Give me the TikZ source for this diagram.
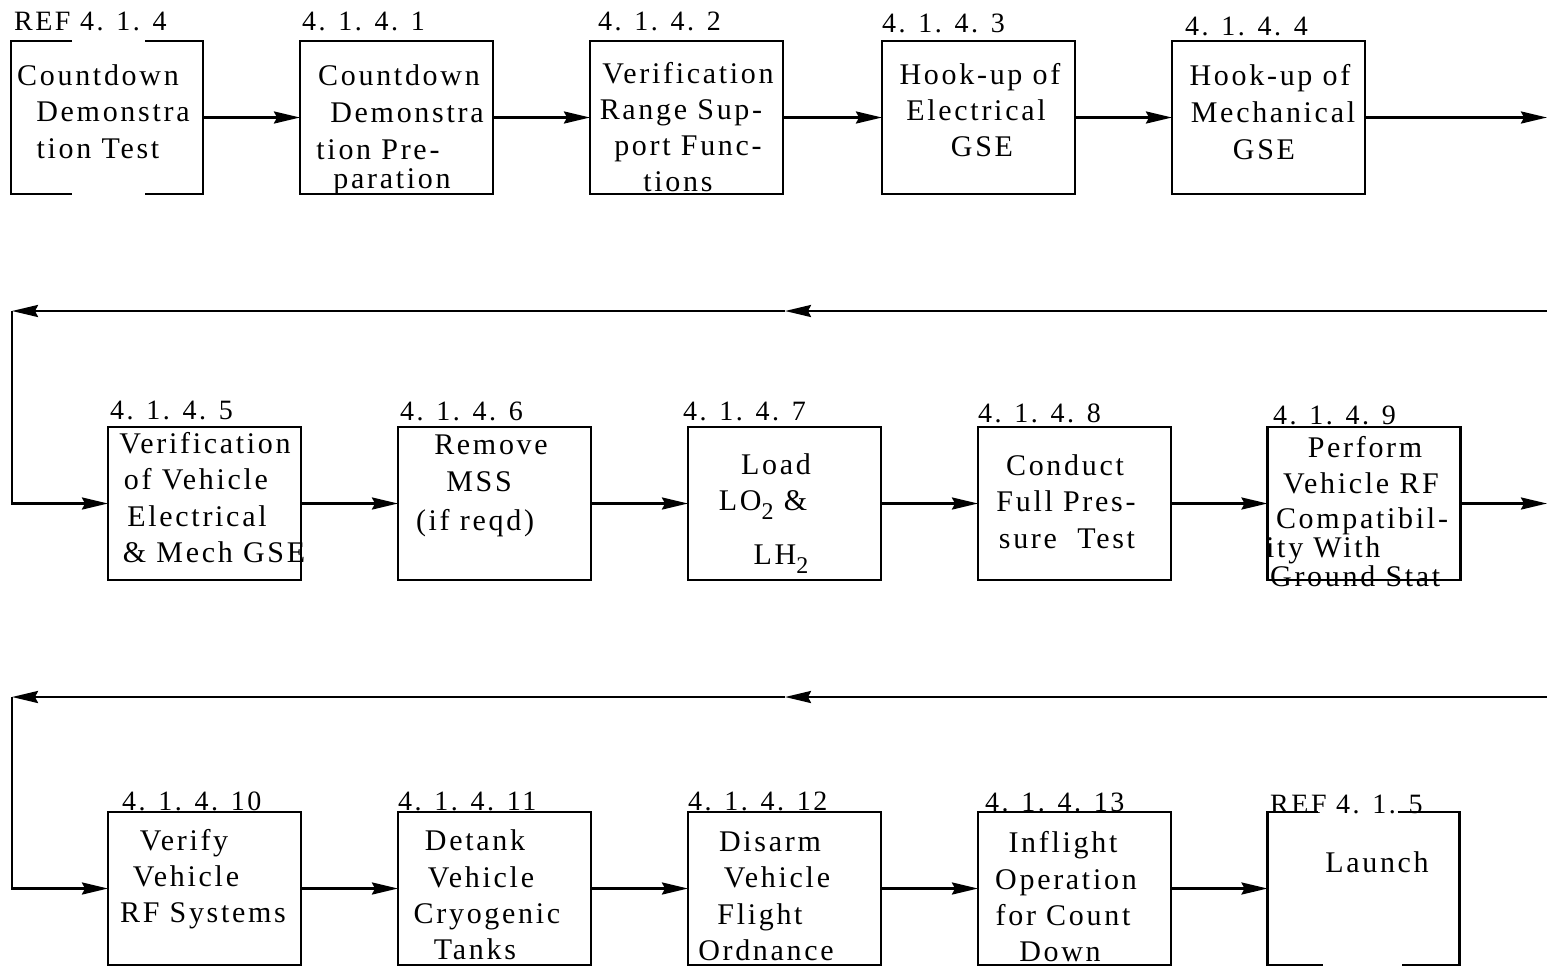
\documentclass[tikz,border=0pt]{standalone}
\usepackage{fontspec}
\setmainfont{Liberation Serif}[LetterSpace=9]
\usetikzlibrary{arrows.meta}
\tikzset{
  box/.style={draw, line width=2.8pt, minimum width=193pt, minimum height=153pt, inner sep=0pt, outer sep=0pt},
  refbox/.style={minimum width=192pt, minimum height=153pt, inner sep=0pt, outer sep=0pt},
  bracketline/.style={line width=2.8pt},
  conn/.style={line width=2.6pt},
  arr/.style={conn, -{Stealth[length=26pt,width=12pt,inset=3pt]}},
  txt/.style={anchor=base, inner sep=0pt, font=\fontsize{30}{36}\selectfont},
  txtl/.style={anchor=base west, inner sep=0pt, font=\fontsize{30}{36}\selectfont},
  num/.style={anchor=base west, inner sep=0pt, font=\fontsize{28}{32}\selectfont},
}
\begin{document}
\begin{tikzpicture}[x=1pt,y=-1pt]
\useasboundingbox (0,0) rectangle (1547,967);
% ---------- row 1 ----------
\node[refbox] (r0) at (107,117.5) {};
\node[box] (b1) at (396.5,117.5) {};
\node[box] (b2) at (686.5,117.5) {};
\node[box] (b3) at (978.5,117.5) {};
\node[box] (b4) at (1268.5,117.5) {};
\draw[bracketline] ([xshift=61pt]r0.north west) -- (r0.north west) -- (r0.south west) -- ([xshift=61pt]r0.south west);
\draw[bracketline] ([xshift=-58pt]r0.north east) -- (r0.north east) -- (r0.south east) -- ([xshift=-58pt]r0.south east);
% ---------- row 2 ----------
\node[box] (b5) at (204.5,503.5) {};
\node[box] (b6) at (494.5,503.5) {};
\node[box] (b7) at (784.5,503.5) {};
\node[box] (b8) at (1074.5,503.5) {};
\node[box] (b9) at (1364,503.5) {};
% ---------- row 3 ----------
\node[box] (b10) at (204.5,888.5) {};
\node[box] (b11) at (494.5,888.5) {};
\node[box] (b12) at (784.5,888.5) {};
\node[box] (b13) at (1074.5,888.5) {};
\node[refbox] (r14) at (1363.5,888.5) {};
\draw[bracketline] ([xshift=50pt]r14.north west) -- (r14.north west) -- (r14.south west) -- ([xshift=55pt]r14.south west);
\draw[bracketline] ([xshift=-62pt]r14.north east) -- (r14.north east) -- (r14.south east) -- ([xshift=-58pt]r14.south east);
% ---------- numbers ----------
\node[num] (n0) at (14,30) {REF 4. 1. 4};
\node[num] (n1) at (302,30) {4. 1. 4. 1};
\node[num] (n2) at (598,30) {4. 1. 4. 2};
\node[num] (n3) at (882,32) {4. 1. 4. 3};
\node[num] (n4) at (1185,35) {4. 1. 4. 4};
\node[num] (n5) at (110,419) {4. 1. 4. 5};
\node[num] (n6) at (400,420) {4. 1. 4. 6};
\node[num] (n7) at (683,420) {4. 1. 4. 7};
\node[num] (n8) at (978,422) {4. 1. 4. 8};
\node[num] (n9) at (1273,424) {4. 1. 4. 9};
\node[num] (n10) at (122,810) {4. 1. 4. 10};
\node[num] (n11) at (398,810) {4. 1. 4. 11};
\node[num] (n12) at (688,810) {4. 1. 4. 12};
\node[num] (n13) at (985,811) {4. 1. 4. 13};
\node[num] (n14) at (1270,813) {REF 4. 1. 5};
% ---------- box texts ----------
\node[txt] (t0a) at (98,85) {Countdown};
\node[txt] (t0b) at (113,121) {Demonstra};
\node[txt] (t0c) at (98,158) {tion Test};
\node[txt] (t1a) at (399,85) {Countdown};
\node[txt] (t1b) at (407,122) {Demonstra};
\node[txt] (t1c) at (378,159) {tion Pre-};
\node[txt] (t1d) at (392,188) {paration};
\node[txt] (t2a) at (688,83) {Verification};
\node[txt] (t2b) at (681,119) {Range Sup-};
\node[txt] (t2c) at (688,155) {port Func-};
\node[txt] (t2d) at (678,191) {tions};
\node[txt] (t3a) at (980,84) {Hook-up of};
\node[txt] (t3b) at (976,120) {Electrical};
\node[txt] (t3c) at (982,156) {GSE};
\node[txt] (t4a) at (1270,85) {Hook-up of};
\node[txt] (t4b) at (1273,122) {Mechanical};
\node[txt] (t4c) at (1264,159) {GSE};
\node[txt] (t5a) at (205,453) {Verification};
\node[txt] (t5b) at (196,489) {of Vehicle};
\node[txt] (t5c) at (197,526) {Electrical};
\node[txt] (t5d) at (214,562) {\& Mech GSE};
\node[txt] (t6a) at (491,454) {Remove};
\node[txt] (t6b) at (479,491) {MSS};
\node[txt] (t6c) at (475,530) {(if reqd)};
\node[txt] (t7a) at (776,474) {Load};
\node[txt] (t7b) at (763,510) {LO\raisebox{-9pt}{\fontsize{24}{24}\selectfont 2}\ \&};
\node[txt] (t7c) at (781,564) {LH\raisebox{-9pt}{\fontsize{24}{24}\selectfont 2}};
\node[txt] (t8a) at (1065,475) {Conduct};
\node[txt] (t8b) at (1066,511) {Full Pres-};
\node[txt] (t8c) at (1067,548) {sure\ \ Test};
\node[txt] (t9a) at (1365,457) {Perform};
\node[txt] (t9b) at (1361,493) {Vehicle RF};
\node[txt] (t9c) at (1362,528) {Compatibil-};
\node[txtl] (t9d) at (1266,557) {ity With};
\node[txtl] (t9e) at (1270,586) {Ground Stat};
\node[txt] (t10a) at (184,850) {Verify};
\node[txt] (t10b) at (186,886) {Vehicle};
\node[txt] (t10c) at (203,922) {RF Systems};
\node[txt] (t11a) at (475,850) {Detank};
\node[txt] (t11b) at (481,887) {Vehicle};
\node[txt] (t11c) at (487,923) {Cryogenic};
\node[txt] (t11d) at (475,959) {Tanks};
\node[txt] (t12a) at (770,851) {Disarm};
\node[txt] (t12b) at (777,887) {Vehicle};
\node[txt] (t12c) at (760,924) {Flight};
\node[txt] (t12d) at (766,960) {Ordnance};
\node[txt] (t13a) at (1063,852) {Inflight};
\node[txt] (t13b) at (1066,889) {Operation};
\node[txt] (t13c) at (1063,925) {for Count};
\node[txt] (t13d) at (1060,961) {Down};
\node[txt] (t14a) at (1377,872) {Launch};
% ---------- connectors ----------
\coordinate (o1) at (1547,117.5);
\coordinate (i2) at (1547,311);
\coordinate (m2) at (785,311);
\coordinate (c2) at (12,311);
\coordinate (o2) at (1547,503.5);
\coordinate (i3) at (1547,697);
\coordinate (m3) at (785,697);
\coordinate (c3) at (12,697);
\draw[arr] (r0.east) -- (b1.west);
\draw[arr] (b1.east) -- (b2.west);
\draw[arr] (b2.east) -- (b3.west);
\draw[arr] (b3.east) -- (b4.west);
\draw[arr] (b4.east) -- (o1);
\draw[arr] (i2) -- (m2);
\draw[arr] (m2) -- (c2);
\draw[arr] (c2) |- (b5.west);
\draw[arr] (b5.east) -- (b6.west);
\draw[arr] (b6.east) -- (b7.west);
\draw[arr] (b7.east) -- (b8.west);
\draw[arr] (b8.east) -- (b9.west);
\draw[arr] (b9.east) -- (o2);
\draw[arr] (i3) -- (m3);
\draw[arr] (m3) -- (c3);
\draw[arr] (c3) |- (b10.west);
\draw[arr] (b10.east) -- (b11.west);
\draw[arr] (b11.east) -- (b12.west);
\draw[arr] (b12.east) -- (b13.west);
\draw[arr] (b13.east) -- (r14.west);
\end{tikzpicture}
\end{document}
